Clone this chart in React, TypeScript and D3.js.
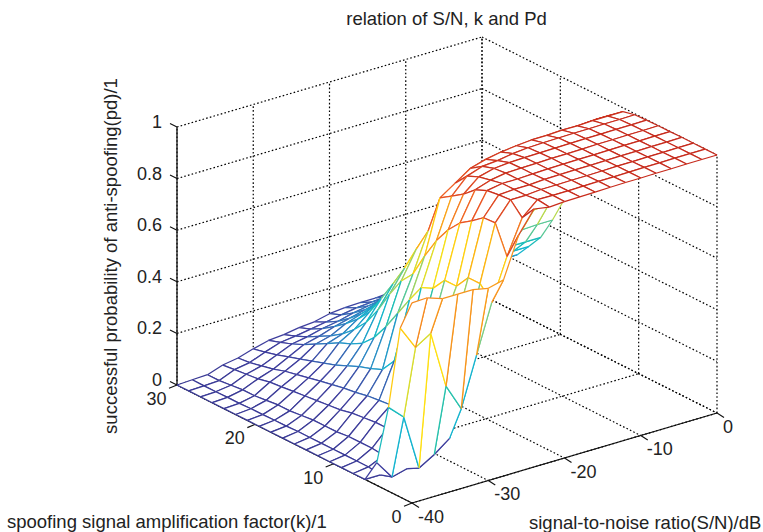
import * as d3 from "d3";
import React, { useEffect, useRef } from "react";

const snGrid = [-40, -38, -36, -34, -32, -30, -28, -26, -24, -22, -20, -18, -16, -14, -12, -10, -8, -6, -4, -2, 0];
const kGrid = [0, 1.5, 3, 4.5, 6, 7.5, 9, 10.5, 12, 13.5, 15, 16.5, 18, 19.5, 21, 22.5, 24, 25.5, 27, 28.5, 30];

const pdK00 = [.776, .778, .757, .757, .757, .745, .76, .917, 1, .99, .994, .995, .996, .997, .998, .998, .999, .999, 1, 1, 1];
const pdK01 = [.655, .563, .6, .378, .273, .463, .65, .81, .943, .996, .995, .995, .996, .997, .997, .998, .999, .999, 1, 1, 1];
const pdK03 = [.325, .27, .055, .09, .135, .45, .7, .918, .99, .99, .995, .995, .996, .996, .997, .998, .998, .999, .999, 1, 1];
const pdK04 = [.088, .015, .03, .1, .17, .5, .7, .915, .986, .99, .99, .994, .995, .996, .996, .997, .998, .998, .999, .999, 1];
const pdK06 = [0, 0, .025, .1, .18, .5, .644, .88, .98, .99, .99, .992, .994, .995, .996, .996, .997, .998, .998, .999, .999];
const pdK07 = [0, .008, .035, .1, .18, .45, .644, .849, .96, .98, .99, .992, .993, .995, .995, .996, .997, .997, .998, .998, .999];
const pdK09 = [0, .008, .04, .1, .17, .385, .59, .8, .92, .97, .985, .99, .992, .993, .994, .995, .996, .996, .997, .997, .998];
const pdK10 = [0, .008, .04, .1, .15, .335, .57, .735, .89, .95, .97, .975, .985, .99, .992, .993, .994, .994, .995, .995, .996];
const pdK12 = [0, .008, .04, .095, .145, .28, .5, .653, .86, .9, .94, .957, .968, .975, .98, .98, .983, .982, .985, .985, .985];
const pdK13 = [0, .008, .035, .09, .14, .224, .425, .56, .71, .78, .85, .88, .9, .91, .92, .93, .935, .94, .945, .95, .95];
const pdK15 = [0, .008, .035, .08, .13, .205, .35, .51, .617, .68, .75, .79, .82, .83, .84, .84, .845, .845, .85, .85, .85];
const pdK16 = [0, .008, .035, .075, .124, .19, .285, .435, .52, .58, .65, .69, .72, .73, .735, .74, .74, .745, .745, .75, .75];
const pdK18 = [0, .006, .03, .07, .115, .17, .24, .35, .435, .485, .54, .58, .61, .62, .625, .63, .63, .635, .635, .64, .64];
const pdK19 = [0, .006, .025, .065, .105, .15, .215, .28, .355, .4, .44, .475, .5, .51, .515, .52, .52, .525, .525, .53, .53];
const pdK21 = [0, .005, .025, .06, .095, .135, .196, .23, .28, .32, .35, .38, .4, .41, .415, .42, .42, .425, .425, .428, .428];
const pdK22 = [0, .005, .02, .055, .085, .12, .17, .19, .23, .26, .28, .3, .32, .33, .335, .335, .335, .338, .338, .338, .338];
const pdK24 = [0, .003, .015, .05, .075, .105, .145, .16, .19, .21, .23, .245, .26, .27, .275, .275, .28, .28, .28, .28, .28];
const pdK25 = [0, .003, .015, .04, .06, .09, .12, .135, .155, .17, .185, .2, .21, .215, .22, .22, .22, .225, .225, .225, .225];
const pdK27 = [0, .002, .01, .035, .05, .075, .1, .11, .125, .135, .15, .16, .17, .175, .18, .18, .18, .185, .185, .186, .186];
const pdK28 = [0, .002, .005, .03, .04, .063, .083, .09, .1, .11, .12, .13, .135, .14, .145, .145, .145, .15, .15, .15, .15];
const pdK30 = [0, .003, .005, .025, .035, .053, .068, .073, .083, .088, .102, .108, .11, .11, .115, .115, .12, .12, .125, .125, .13];
const pdRows = [pdK00, pdK01, pdK03, pdK04, pdK06, pdK07, pdK09, pdK10, pdK12, pdK13, pdK15, pdK16, pdK18, pdK19, pdK21, pdK22, pdK24, pdK25, pdK27, pdK28, pdK30];

const snTicks = [-40, -30, -20, -10, 0];
const kTicks = [0, 10, 20, 30];
const pdTicks = [0, 0.2, 0.4, 0.6, 0.8, 1];

const colorStops = [0, 0.1, 0.18, 0.27, 0.37, 0.46, 0.53, 0.6, 0.68, 0.76, 0.87, 1];
const colorValues = ["#3a3a96", "#3f3f9f", "#2e7fc1", "#14b4cf", "#1fc0b0", "#78cb86", "#b6d84b", "#ffe010", "#ffc20e", "#f7931e", "#ee5a24", "#c62a1c"];

const width = 763;
const height = 532;

// oblique box: floor corner for k=30, S/N=-40 plus one vector per axis
const snX = d3.scaleLinear().domain([-40, 0]).range([0, 305]);
const snY = d3.scaleLinear().domain([-40, 0]).range([0, -90]);
const kX = d3.scaleLinear().domain([30, 0]).range([0, 235]);
const kY = d3.scaleLinear().domain([30, 0]).range([0, 118]);
const pdY = d3.scaleLinear().domain([0, 1]).range([0, -258]);

const color = d3.scaleLinear<string>().domain(colorStops).range(colorValues).clamp(true);

const px = (sn: number, k: number) => 177 + snX(sn) + kX(k);
const py = (sn: number, k: number, pd: number) => 385 + snY(sn) + kY(k) + pdY(pd);

const edge = d3
  .line<[number, number, number]>()
  .x((d) => px(d[0], d[1]))
  .y((d) => py(d[0], d[1], d[2]));

function App() {
  const svgRef = useRef<SVGSVGElement>(null);

  useEffect(() => {
    const svg = d3.select(svgRef.current);
    svg.selectAll("*").remove();

    // back walls and floor, dotted
    const dotted: [number, number, number][][] = [];
    snTicks.forEach((s) => {
      dotted.push([[s, 30, 0], [s, 0, 0]]);
      dotted.push([[s, 30, 0], [s, 30, 1]]);
    });
    kTicks.forEach((k) => {
      dotted.push([[-40, k, 0], [0, k, 0]]);
      dotted.push([[0, k, 0], [0, k, 1]]);
    });
    pdTicks.forEach((p) => {
      dotted.push([[-40, 30, p], [0, 30, p]]);
      dotted.push([[0, 30, p], [0, 0, p]]);
    });
    svg
      .append("g")
      .selectAll("path")
      .data(dotted)
      .join("path")
      .attr("d", (d) => edge(d))
      .attr("fill", "none")
      .attr("stroke", "#000")
      .attr("stroke-width", 1.2)
      .attr("stroke-dasharray", "1.6 2.2");

    // solid axes
    const solid: [number, number, number][][] = [
      [[-40, 30, 0], [-40, 0, 0]],
      [[-40, 0, 0], [0, 0, 0]],
      [[-40, 30, 0], [-40, 30, 1]],
    ];
    svg
      .append("g")
      .selectAll("path")
      .data(solid)
      .join("path")
      .attr("d", (d) => edge(d))
      .attr("fill", "none")
      .attr("stroke", "#111")
      .attr("stroke-width", 1.3);

    // tick marks
    const ticks = svg.append("g").attr("stroke", "#111").attr("stroke-width", 1.1);
    kTicks.forEach((k) => {
      ticks
        .append("line")
        .attr("x1", px(-40, k))
        .attr("y1", py(-40, k, 0))
        .attr("x2", px(-40, k) - 8)
        .attr("y2", py(-40, k, 0) + 3.3);
    });
    snTicks.forEach((s) => {
      ticks
        .append("line")
        .attr("x1", px(s, 0))
        .attr("y1", py(s, 0, 0))
        .attr("x2", px(s, 0) + 7)
        .attr("y2", py(s, 0, 0) + 4.5);
    });
    pdTicks.forEach((p) => {
      ticks
        .append("line")
        .attr("x1", px(-40, 30))
        .attr("y1", py(-40, 30, p))
        .attr("x2", px(-40, 30) - 7)
        .attr("y2", py(-40, 30, p) - 3.5);
    });

    // mesh, far cells first so the white faces hide what is behind them
    const cells: { i: number; j: number }[] = [];
    for (let j = kGrid.length - 2; j >= 0; j--) {
      for (let i = snGrid.length - 2; i >= 0; i--) {
        cells.push({ i, j });
      }
    }
    const vertex = (i: number, j: number): [number, number, number] => [snGrid[i], kGrid[j], pdRows[j][i]];

    const cellGroups = svg
      .append("g")
      .selectAll("g")
      .data(cells)
      .join("g")
      .attr("fill", "none")
      .attr("stroke-width", 1.25)
      .attr("stroke-linejoin", "round");

    cellGroups
      .append("path")
      .attr("d", ({ i, j }) => edge([vertex(i, j), vertex(i + 1, j), vertex(i + 1, j + 1), vertex(i, j + 1)]) + "Z")
      .attr("fill", "#fff")
      .attr("stroke", "none");
    // each edge takes the colour of its first vertex
    cellGroups
      .append("path")
      .attr("d", ({ i, j }) => edge([vertex(i, j + 1), vertex(i + 1, j + 1)]))
      .attr("stroke", ({ i, j }) => color(pdRows[j + 1][i]));
    cellGroups
      .append("path")
      .attr("d", ({ i, j }) => edge([vertex(i + 1, j), vertex(i + 1, j + 1)]))
      .attr("stroke", ({ i, j }) => color(pdRows[j][i + 1]));
    cellGroups
      .append("path")
      .attr("d", ({ i, j }) => edge([vertex(i, j), vertex(i, j + 1)]))
      .attr("stroke", ({ i, j }) => color(pdRows[j][i]));
    cellGroups
      .append("path")
      .attr("d", ({ i, j }) => edge([vertex(i, j), vertex(i + 1, j)]))
      .attr("stroke", ({ i, j }) => color(pdRows[j][i]));

    // text
    const text = svg
      .append("g")
      .attr("font-family", "'Liberation Sans', Arial, sans-serif")
      .attr("font-size", 18.5)
      .attr("fill", "#222");

    text
      .selectAll(".pd-label")
      .data(pdTicks)
      .join("text")
      .attr("class", "pd-label")
      .attr("x", 162)
      .attr("y", (p) => py(-40, 30, p) + 1)
      .attr("text-anchor", "end")
      .attr("font-size", 18)
      .text((p) => String(p));
    text
      .selectAll(".k-label")
      .data(kTicks)
      .join("text")
      .attr("class", "k-label")
      .attr("x", (k) => px(-40, k) - 10.5)
      .attr("y", (k) => py(-40, k, 0) + 20)
      .attr("text-anchor", "end")
      .attr("font-size", 18)
      .text((k) => String(k));
    text
      .selectAll(".sn-label")
      .data(snTicks)
      .join("text")
      .attr("class", "sn-label")
      .attr("x", (s) => px(s, 0) + 6)
      .attr("y", (s) => py(s, 0, 0) + 19.5)
      .attr("font-size", 18)
      .text((s) => String(s));

    text
      .append("text")
      .attr("x", 446.5)
      .attr("y", 25)
      .attr("text-anchor", "middle")
      .text("relation of S/N, k and Pd");
    text
      .append("text")
      .attr("transform", "translate(117,256) rotate(-90)")
      .attr("text-anchor", "middle")
      .text("successful probability of anti-spoofing(pd)/1");
    text
      .append("text")
      .attr("x", 7)
      .attr("y", 528)
      .text("spoofing signal amplification factor(k)/1");
    text
      .append("text")
      .attr("x", 529)
      .attr("y", 529)
      .text("signal-to-noise ratio(S/N)/dB");
  }, []);

  return (
    <svg
      ref={svgRef}
      width={width}
      height={height}
      style={{ position: "absolute", left: 0, top: 0, background: "#fff" }}
    />
  );
}

export default App;
